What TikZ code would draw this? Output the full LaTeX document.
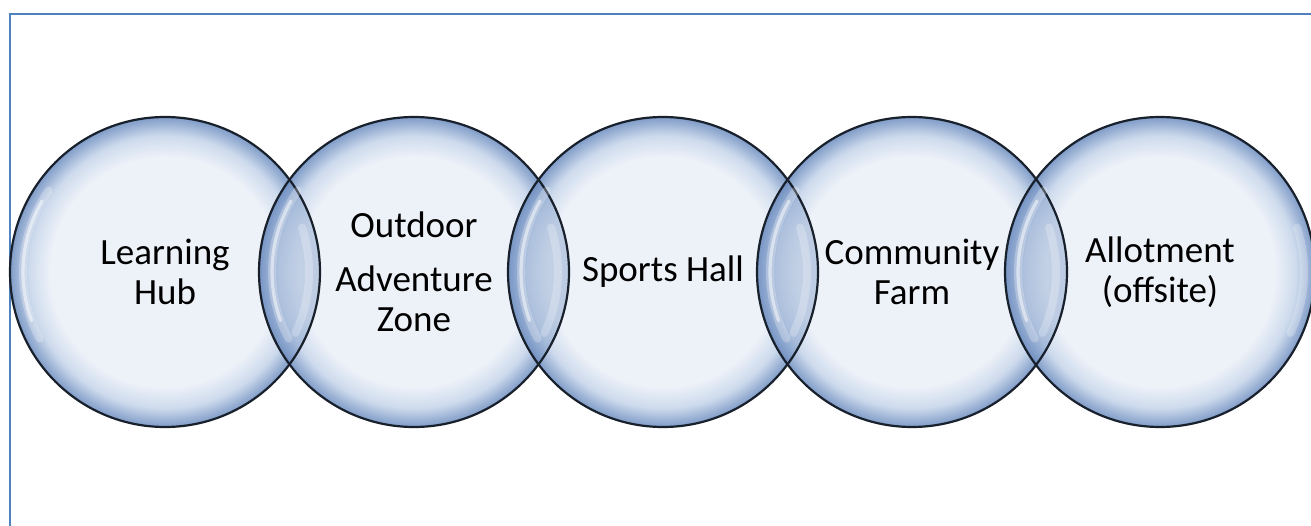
\documentclass[tikz,border=0pt]{standalone}
\usepackage{fontspec}
\setmainfont{Carlito}
\usepackage{xcolor}
\usepackage{tikz}
\usetikzlibrary{
  shapes.geometric,
  positioning
}
\definecolor{bubCore}{HTML}{EBF0F8}
\definecolor{bubSoft}{HTML}{C6D5EA}
\definecolor{bubEdge}{HTML}{6E8EC0}
\definecolor{bubLine}{HTML}{18202C}
\definecolor{frameBlue}{HTML}{4F81BD}
\pgfdeclareradialshading{bubble}{\pgfpoint{0bp}{0bp}}{%
  color(0bp)=(bubCore); color(18.5bp)=(bubCore);
  color(22bp)=(bubSoft); color(25bp)=(bubEdge);
  color(50bp)=(bubEdge)}
\tikzset{
  bub/.style={
    circle, shading=bubble, minimum size=155pt, inner sep=0pt,
    fill opacity=0.88, text opacity=1, align=center,
    font=\fontsize{18.5}{20}\selectfont
  },
  rim/.style={draw=bubLine, line width=1.1pt},
  lens/.style={fill=bubEdge, fill opacity=0.3},
  shine/.style={draw=white, line width=4pt, opacity=0.25, line cap=round},
  shine core/.style={draw=white, line width=1.6pt, opacity=0.5, line cap=round},
  frame/.style={draw=frameBlue, line width=1.2pt}
}
\begin{document}
\begin{tikzpicture}[x=0.5pt, y=0.5pt]
  \useasboundingbox (0,0) rectangle (1311,525);
  \clip (0,0) rectangle (1311,525);

  \draw[frame] (10,511) rectangle (1340,-20);

  % the five bubbles, left to right
  \node[bub] (b1) at (165,253) {Learning\\Hub};
  \node[bub] (b2) at (414,253) {Outdoor\\[7pt]Adventure\\Zone};
  \node[bub] (b3) at (663,253) {Sports Hall};
  \node[bub] (b4) at (912,253) {Community\\Farm};
  \node[bub] (b5) at (1160,253) {Allotment\\(offsite)};

  % darker lens where neighbours overlap
  \foreach \a/\b in {1/2, 2/3, 3/4, 4/5} {
    \begin{scope}
      \clip (b\a.center) circle[radius=77.5pt];
      \fill[lens] (b\b.center) circle[radius=77.5pt];
    \end{scope}
  }

  \foreach \i in {1,...,5} {
    \draw[shine] ([shift={(145:71pt)}]b\i.center)
      arc[start angle=145, end angle=208, radius=71pt];
    \draw[shine core] ([shift={(150:71pt)}]b\i.center)
      arc[start angle=150, end angle=200, radius=71pt];
    \draw[shine] ([shift={(-25:72pt)}]b\i.center)
      arc[start angle=-25, end angle=18, radius=72pt];
    \draw[rim] (b\i.center) circle[radius=77.5pt];
  }

\end{tikzpicture}
\end{document}
